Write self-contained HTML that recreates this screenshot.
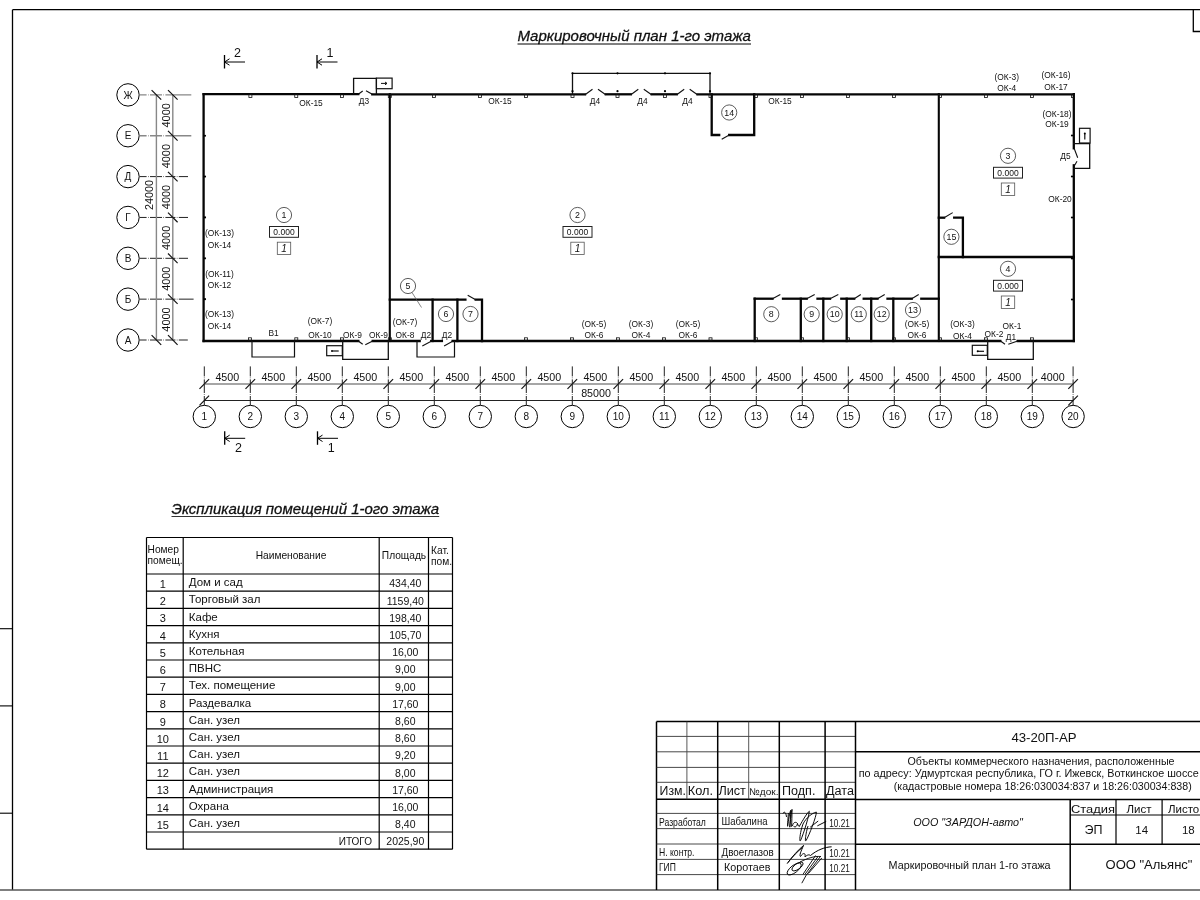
<!DOCTYPE html>
<html><head><meta charset="utf-8"><style>
html,body{margin:0;padding:0;background:#fff;width:1200px;height:900px;overflow:hidden}
svg{display:block;font-family:"Liberation Sans", sans-serif;}
text{fill:#111}
</style></head><body><div style="will-change:transform">
<svg width="1200" height="900" viewBox="0 0 1200 900">
<rect width="1200" height="900" fill="#fff"/>
<line x1="12.50" y1="9.70" x2="1200.00" y2="9.70" stroke="#000" stroke-width="1.3" />
<line x1="12.50" y1="9.70" x2="12.50" y2="890.00" stroke="#000" stroke-width="1.3" />
<line x1="0.00" y1="890.00" x2="1200.00" y2="890.00" stroke="#555" stroke-width="1.6" />
<line x1="0.00" y1="628.70" x2="12.50" y2="628.70" stroke="#000" stroke-width="1.1" />
<line x1="0.00" y1="705.90" x2="12.50" y2="705.90" stroke="#000" stroke-width="1.1" />
<line x1="0.00" y1="813.20" x2="12.50" y2="813.20" stroke="#000" stroke-width="1.1" />
<path d="M1193.3 9.7 V31.5 H1200" stroke="#000" stroke-width="1.3" fill="none" />
<text x="634.20" y="41.40" font-size="15" text-anchor="middle" style="font-style:italic;" textLength="233.5" lengthAdjust="spacingAndGlyphs" stroke="#111" stroke-width="0.3">Маркировочный план 1-го этажа</text>
<line x1="517.50" y1="44.00" x2="751.00" y2="44.00" stroke="#000" stroke-width="1" />
<circle cx="128.00" cy="94.90" r="11.20" stroke="#000" stroke-width="1" fill="none"/>
<text x="128.00" y="98.50" font-size="10" text-anchor="middle" style="" >Ж</text>
<line x1="139.60" y1="94.90" x2="191.30" y2="94.90" stroke="#888" stroke-width="1.4" stroke-dasharray="7 1.4 0.6 1.4 12 1.4 0.6 1.4 40"/>
<circle cx="128.00" cy="135.75" r="11.20" stroke="#000" stroke-width="1" fill="none"/>
<text x="128.00" y="139.35" font-size="10" text-anchor="middle" style="" >Е</text>
<line x1="139.60" y1="135.75" x2="191.30" y2="135.75" stroke="#888" stroke-width="1.4" stroke-dasharray="7 1.4 0.6 1.4 12 1.4 0.6 1.4 40"/>
<circle cx="128.00" cy="176.60" r="11.20" stroke="#000" stroke-width="1" fill="none"/>
<text x="128.00" y="180.20" font-size="10" text-anchor="middle" style="" >Д</text>
<line x1="139.60" y1="176.60" x2="188.00" y2="176.60" stroke="#222" stroke-width="1" stroke-dasharray="7 1.4 0.6 1.4 12 1.4 0.6 1.4 10 1.4 0.6 1.4 40"/>
<circle cx="128.00" cy="217.45" r="11.20" stroke="#000" stroke-width="1" fill="none"/>
<text x="128.00" y="221.05" font-size="10" text-anchor="middle" style="" >Г</text>
<line x1="139.60" y1="217.45" x2="188.00" y2="217.45" stroke="#222" stroke-width="1" stroke-dasharray="7 1.4 0.6 1.4 12 1.4 0.6 1.4 10 1.4 0.6 1.4 40"/>
<circle cx="128.00" cy="258.30" r="11.20" stroke="#000" stroke-width="1" fill="none"/>
<text x="128.00" y="261.90" font-size="10" text-anchor="middle" style="" >В</text>
<line x1="139.60" y1="258.30" x2="188.00" y2="258.30" stroke="#222" stroke-width="1" stroke-dasharray="7 1.4 0.6 1.4 12 1.4 0.6 1.4 10 1.4 0.6 1.4 40"/>
<circle cx="128.00" cy="299.15" r="11.20" stroke="#000" stroke-width="1" fill="none"/>
<text x="128.00" y="302.75" font-size="10" text-anchor="middle" style="" >Б</text>
<line x1="139.60" y1="299.15" x2="193.60" y2="299.15" stroke="#222" stroke-width="1" stroke-dasharray="7 1.4 0.6 1.4 12 1.4 0.6 1.4 10 1.4 0.6 1.4 40"/>
<circle cx="128.00" cy="340.00" r="11.20" stroke="#000" stroke-width="1" fill="none"/>
<text x="128.00" y="343.60" font-size="10" text-anchor="middle" style="" >А</text>
<line x1="139.60" y1="340.00" x2="187.80" y2="340.00" stroke="#222" stroke-width="1" stroke-dasharray="7 1.4 0.6 1.4 12 1.4 0.6 1.4 10 1.4 0.6 1.4 40"/>
<line x1="156.40" y1="94.90" x2="156.40" y2="340.00" stroke="#888" stroke-width="1.4" />
<line x1="172.80" y1="94.90" x2="172.80" y2="340.00" stroke="#888" stroke-width="1.4" />
<line x1="151.60" y1="90.10" x2="161.20" y2="99.70" stroke="#111" stroke-width="1.2" />
<line x1="151.60" y1="335.20" x2="161.20" y2="344.80" stroke="#111" stroke-width="1.2" />
<line x1="168.00" y1="90.10" x2="177.60" y2="99.70" stroke="#111" stroke-width="1.2" />
<line x1="168.00" y1="130.95" x2="177.60" y2="140.55" stroke="#111" stroke-width="1.2" />
<line x1="168.00" y1="171.80" x2="177.60" y2="181.40" stroke="#111" stroke-width="1.2" />
<line x1="168.00" y1="212.65" x2="177.60" y2="222.25" stroke="#111" stroke-width="1.2" />
<line x1="168.00" y1="253.50" x2="177.60" y2="263.10" stroke="#111" stroke-width="1.2" />
<line x1="168.00" y1="294.35" x2="177.60" y2="303.95" stroke="#111" stroke-width="1.2" />
<line x1="168.00" y1="335.20" x2="177.60" y2="344.80" stroke="#111" stroke-width="1.2" />
<text x="0" y="0" font-size="10.9" text-anchor="middle" transform="translate(169.9 115.33) rotate(-90)">4000</text>
<text x="0" y="0" font-size="10.9" text-anchor="middle" transform="translate(169.9 156.18) rotate(-90)">4000</text>
<text x="0" y="0" font-size="10.9" text-anchor="middle" transform="translate(169.9 197.03) rotate(-90)">4000</text>
<text x="0" y="0" font-size="10.9" text-anchor="middle" transform="translate(169.9 237.88) rotate(-90)">4000</text>
<text x="0" y="0" font-size="10.9" text-anchor="middle" transform="translate(169.9 278.73) rotate(-90)">4000</text>
<text x="0" y="0" font-size="10.9" text-anchor="middle" transform="translate(169.9 319.57) rotate(-90)">4000</text>
<text x="0" y="0" font-size="10.8" text-anchor="middle" transform="translate(153.1 195) rotate(-90)">24000</text>
<circle cx="204.30" cy="416.50" r="11.20" stroke="#000" stroke-width="1" fill="none"/>
<text x="204.30" y="420.10" font-size="10" text-anchor="middle" style="" >1</text>
<line x1="204.30" y1="366.40" x2="204.30" y2="405.30" stroke="#222" stroke-width="1" stroke-dasharray="10 1.2 0.6 1.2 13.6 1.2 0.6 1.2 30"/>
<circle cx="250.30" cy="416.50" r="11.20" stroke="#000" stroke-width="1" fill="none"/>
<text x="250.30" y="420.10" font-size="10" text-anchor="middle" style="" >2</text>
<line x1="250.30" y1="366.40" x2="250.30" y2="405.30" stroke="#222" stroke-width="1" stroke-dasharray="10 1.2 0.6 1.2 13.6 1.2 0.6 1.2 30"/>
<circle cx="296.30" cy="416.50" r="11.20" stroke="#000" stroke-width="1" fill="none"/>
<text x="296.30" y="420.10" font-size="10" text-anchor="middle" style="" >3</text>
<line x1="296.30" y1="366.40" x2="296.30" y2="405.30" stroke="#222" stroke-width="1" stroke-dasharray="10 1.2 0.6 1.2 13.6 1.2 0.6 1.2 30"/>
<circle cx="342.30" cy="416.50" r="11.20" stroke="#000" stroke-width="1" fill="none"/>
<text x="342.30" y="420.10" font-size="10" text-anchor="middle" style="" >4</text>
<line x1="342.30" y1="366.40" x2="342.30" y2="405.30" stroke="#222" stroke-width="1" stroke-dasharray="10 1.2 0.6 1.2 13.6 1.2 0.6 1.2 30"/>
<circle cx="388.30" cy="416.50" r="11.20" stroke="#000" stroke-width="1" fill="none"/>
<text x="388.30" y="420.10" font-size="10" text-anchor="middle" style="" >5</text>
<line x1="388.30" y1="366.40" x2="388.30" y2="405.30" stroke="#222" stroke-width="1" stroke-dasharray="10 1.2 0.6 1.2 13.6 1.2 0.6 1.2 30"/>
<circle cx="434.30" cy="416.50" r="11.20" stroke="#000" stroke-width="1" fill="none"/>
<text x="434.30" y="420.10" font-size="10" text-anchor="middle" style="" >6</text>
<line x1="434.30" y1="366.40" x2="434.30" y2="405.30" stroke="#222" stroke-width="1" stroke-dasharray="10 1.2 0.6 1.2 13.6 1.2 0.6 1.2 30"/>
<circle cx="480.30" cy="416.50" r="11.20" stroke="#000" stroke-width="1" fill="none"/>
<text x="480.30" y="420.10" font-size="10" text-anchor="middle" style="" >7</text>
<line x1="480.30" y1="366.40" x2="480.30" y2="405.30" stroke="#222" stroke-width="1" stroke-dasharray="10 1.2 0.6 1.2 13.6 1.2 0.6 1.2 30"/>
<circle cx="526.30" cy="416.50" r="11.20" stroke="#000" stroke-width="1" fill="none"/>
<text x="526.30" y="420.10" font-size="10" text-anchor="middle" style="" >8</text>
<line x1="526.30" y1="366.40" x2="526.30" y2="405.30" stroke="#222" stroke-width="1" stroke-dasharray="10 1.2 0.6 1.2 13.6 1.2 0.6 1.2 30"/>
<circle cx="572.30" cy="416.50" r="11.20" stroke="#000" stroke-width="1" fill="none"/>
<text x="572.30" y="420.10" font-size="10" text-anchor="middle" style="" >9</text>
<line x1="572.30" y1="366.40" x2="572.30" y2="405.30" stroke="#222" stroke-width="1" stroke-dasharray="10 1.2 0.6 1.2 13.6 1.2 0.6 1.2 30"/>
<circle cx="618.30" cy="416.50" r="11.20" stroke="#000" stroke-width="1" fill="none"/>
<text x="618.30" y="420.10" font-size="10" text-anchor="middle" style="" >10</text>
<line x1="618.30" y1="366.40" x2="618.30" y2="405.30" stroke="#222" stroke-width="1" stroke-dasharray="10 1.2 0.6 1.2 13.6 1.2 0.6 1.2 30"/>
<circle cx="664.30" cy="416.50" r="11.20" stroke="#000" stroke-width="1" fill="none"/>
<text x="664.30" y="420.10" font-size="10" text-anchor="middle" style="" >11</text>
<line x1="664.30" y1="366.40" x2="664.30" y2="405.30" stroke="#222" stroke-width="1" stroke-dasharray="10 1.2 0.6 1.2 13.6 1.2 0.6 1.2 30"/>
<circle cx="710.30" cy="416.50" r="11.20" stroke="#000" stroke-width="1" fill="none"/>
<text x="710.30" y="420.10" font-size="10" text-anchor="middle" style="" >12</text>
<line x1="710.30" y1="366.40" x2="710.30" y2="405.30" stroke="#222" stroke-width="1" stroke-dasharray="10 1.2 0.6 1.2 13.6 1.2 0.6 1.2 30"/>
<circle cx="756.30" cy="416.50" r="11.20" stroke="#000" stroke-width="1" fill="none"/>
<text x="756.30" y="420.10" font-size="10" text-anchor="middle" style="" >13</text>
<line x1="756.30" y1="366.40" x2="756.30" y2="405.30" stroke="#222" stroke-width="1" stroke-dasharray="10 1.2 0.6 1.2 13.6 1.2 0.6 1.2 30"/>
<circle cx="802.30" cy="416.50" r="11.20" stroke="#000" stroke-width="1" fill="none"/>
<text x="802.30" y="420.10" font-size="10" text-anchor="middle" style="" >14</text>
<line x1="802.30" y1="366.40" x2="802.30" y2="405.30" stroke="#222" stroke-width="1" stroke-dasharray="10 1.2 0.6 1.2 13.6 1.2 0.6 1.2 30"/>
<circle cx="848.30" cy="416.50" r="11.20" stroke="#000" stroke-width="1" fill="none"/>
<text x="848.30" y="420.10" font-size="10" text-anchor="middle" style="" >15</text>
<line x1="848.30" y1="366.40" x2="848.30" y2="405.30" stroke="#222" stroke-width="1" stroke-dasharray="10 1.2 0.6 1.2 13.6 1.2 0.6 1.2 30"/>
<circle cx="894.30" cy="416.50" r="11.20" stroke="#000" stroke-width="1" fill="none"/>
<text x="894.30" y="420.10" font-size="10" text-anchor="middle" style="" >16</text>
<line x1="894.30" y1="366.40" x2="894.30" y2="405.30" stroke="#222" stroke-width="1" stroke-dasharray="10 1.2 0.6 1.2 13.6 1.2 0.6 1.2 30"/>
<circle cx="940.30" cy="416.50" r="11.20" stroke="#000" stroke-width="1" fill="none"/>
<text x="940.30" y="420.10" font-size="10" text-anchor="middle" style="" >17</text>
<line x1="940.30" y1="366.40" x2="940.30" y2="405.30" stroke="#222" stroke-width="1" stroke-dasharray="10 1.2 0.6 1.2 13.6 1.2 0.6 1.2 30"/>
<circle cx="986.30" cy="416.50" r="11.20" stroke="#000" stroke-width="1" fill="none"/>
<text x="986.30" y="420.10" font-size="10" text-anchor="middle" style="" >18</text>
<line x1="986.30" y1="366.40" x2="986.30" y2="405.30" stroke="#222" stroke-width="1" stroke-dasharray="10 1.2 0.6 1.2 13.6 1.2 0.6 1.2 30"/>
<circle cx="1032.30" cy="416.50" r="11.20" stroke="#000" stroke-width="1" fill="none"/>
<text x="1032.30" y="420.10" font-size="10" text-anchor="middle" style="" >19</text>
<line x1="1032.30" y1="366.40" x2="1032.30" y2="405.30" stroke="#222" stroke-width="1" stroke-dasharray="10 1.2 0.6 1.2 13.6 1.2 0.6 1.2 30"/>
<circle cx="1073.10" cy="416.50" r="11.20" stroke="#000" stroke-width="1" fill="none"/>
<text x="1073.10" y="420.10" font-size="10" text-anchor="middle" style="" >20</text>
<line x1="1073.10" y1="366.40" x2="1073.10" y2="405.30" stroke="#222" stroke-width="1" stroke-dasharray="10 1.2 0.6 1.2 13.6 1.2 0.6 1.2 30"/>
<line x1="204.00" y1="384.00" x2="1073.00" y2="384.00" stroke="#888" stroke-width="1.6" />
<line x1="204.00" y1="400.50" x2="1073.00" y2="400.50" stroke="#222" stroke-width="1" />
<line x1="199.50" y1="388.80" x2="209.10" y2="379.20" stroke="#111" stroke-width="1.2" />
<line x1="245.50" y1="388.80" x2="255.10" y2="379.20" stroke="#111" stroke-width="1.2" />
<line x1="291.50" y1="388.80" x2="301.10" y2="379.20" stroke="#111" stroke-width="1.2" />
<line x1="337.50" y1="388.80" x2="347.10" y2="379.20" stroke="#111" stroke-width="1.2" />
<line x1="383.50" y1="388.80" x2="393.10" y2="379.20" stroke="#111" stroke-width="1.2" />
<line x1="429.50" y1="388.80" x2="439.10" y2="379.20" stroke="#111" stroke-width="1.2" />
<line x1="475.50" y1="388.80" x2="485.10" y2="379.20" stroke="#111" stroke-width="1.2" />
<line x1="521.50" y1="388.80" x2="531.10" y2="379.20" stroke="#111" stroke-width="1.2" />
<line x1="567.50" y1="388.80" x2="577.10" y2="379.20" stroke="#111" stroke-width="1.2" />
<line x1="613.50" y1="388.80" x2="623.10" y2="379.20" stroke="#111" stroke-width="1.2" />
<line x1="659.50" y1="388.80" x2="669.10" y2="379.20" stroke="#111" stroke-width="1.2" />
<line x1="705.50" y1="388.80" x2="715.10" y2="379.20" stroke="#111" stroke-width="1.2" />
<line x1="751.50" y1="388.80" x2="761.10" y2="379.20" stroke="#111" stroke-width="1.2" />
<line x1="797.50" y1="388.80" x2="807.10" y2="379.20" stroke="#111" stroke-width="1.2" />
<line x1="843.50" y1="388.80" x2="853.10" y2="379.20" stroke="#111" stroke-width="1.2" />
<line x1="889.50" y1="388.80" x2="899.10" y2="379.20" stroke="#111" stroke-width="1.2" />
<line x1="935.50" y1="388.80" x2="945.10" y2="379.20" stroke="#111" stroke-width="1.2" />
<line x1="981.50" y1="388.80" x2="991.10" y2="379.20" stroke="#111" stroke-width="1.2" />
<line x1="1027.50" y1="388.80" x2="1037.10" y2="379.20" stroke="#111" stroke-width="1.2" />
<line x1="1068.30" y1="388.80" x2="1077.90" y2="379.20" stroke="#111" stroke-width="1.2" />
<line x1="199.50" y1="405.30" x2="209.10" y2="395.70" stroke="#111" stroke-width="1.2" />
<line x1="1068.30" y1="405.30" x2="1077.90" y2="395.70" stroke="#111" stroke-width="1.2" />
<text x="227.30" y="380.95" font-size="10.7" text-anchor="middle" style="" >4500</text>
<text x="273.30" y="380.95" font-size="10.7" text-anchor="middle" style="" >4500</text>
<text x="319.30" y="380.95" font-size="10.7" text-anchor="middle" style="" >4500</text>
<text x="365.30" y="380.95" font-size="10.7" text-anchor="middle" style="" >4500</text>
<text x="411.30" y="380.95" font-size="10.7" text-anchor="middle" style="" >4500</text>
<text x="457.30" y="380.95" font-size="10.7" text-anchor="middle" style="" >4500</text>
<text x="503.30" y="380.95" font-size="10.7" text-anchor="middle" style="" >4500</text>
<text x="549.30" y="380.95" font-size="10.7" text-anchor="middle" style="" >4500</text>
<text x="595.30" y="380.95" font-size="10.7" text-anchor="middle" style="" >4500</text>
<text x="641.30" y="380.95" font-size="10.7" text-anchor="middle" style="" >4500</text>
<text x="687.30" y="380.95" font-size="10.7" text-anchor="middle" style="" >4500</text>
<text x="733.30" y="380.95" font-size="10.7" text-anchor="middle" style="" >4500</text>
<text x="779.30" y="380.95" font-size="10.7" text-anchor="middle" style="" >4500</text>
<text x="825.30" y="380.95" font-size="10.7" text-anchor="middle" style="" >4500</text>
<text x="871.30" y="380.95" font-size="10.7" text-anchor="middle" style="" >4500</text>
<text x="917.30" y="380.95" font-size="10.7" text-anchor="middle" style="" >4500</text>
<text x="963.30" y="380.95" font-size="10.7" text-anchor="middle" style="" >4500</text>
<text x="1009.30" y="380.95" font-size="10.7" text-anchor="middle" style="" >4500</text>
<text x="1052.70" y="380.95" font-size="10.7" text-anchor="middle" style="" >4000</text>
<text x="596.00" y="396.85" font-size="10.7" text-anchor="middle" style="" >85000</text>
<line x1="224.50" y1="55.00" x2="224.50" y2="68.50" stroke="#000" stroke-width="1.3" />
<line x1="224.50" y1="62.00" x2="245.00" y2="62.00" stroke="#000" stroke-width="1" />
<path d="M229.5 58.8 L224.5 62 L229.5 65.2" stroke="#000" stroke-width="1" fill="none" />
<text x="237.50" y="56.50" font-size="12.5" text-anchor="middle" style="" >2</text>
<line x1="317.00" y1="55.00" x2="317.00" y2="68.50" stroke="#000" stroke-width="1.3" />
<line x1="317.00" y1="62.00" x2="337.50" y2="62.00" stroke="#000" stroke-width="1" />
<path d="M322 58.8 L317 62 L322 65.2" stroke="#000" stroke-width="1" fill="none" />
<text x="330.00" y="56.50" font-size="12.5" text-anchor="middle" style="" >1</text>
<line x1="224.70" y1="431.30" x2="224.70" y2="444.80" stroke="#000" stroke-width="1.3" />
<line x1="224.70" y1="438.30" x2="245.20" y2="438.30" stroke="#000" stroke-width="1" />
<path d="M229.7 435.1 L224.7 438.3 L229.7 441.5" stroke="#000" stroke-width="1" fill="none" />
<text x="238.40" y="452.10" font-size="12.5" text-anchor="middle" style="" >2</text>
<line x1="317.50" y1="431.30" x2="317.50" y2="444.80" stroke="#000" stroke-width="1.3" />
<line x1="317.50" y1="438.30" x2="338.00" y2="438.30" stroke="#000" stroke-width="1" />
<path d="M322.5 435.1 L317.5 438.3 L322.5 441.5" stroke="#000" stroke-width="1" fill="none" />
<text x="331.20" y="452.10" font-size="12.5" text-anchor="middle" style="" >1</text>
<path d="M203.6 94.2 H358.3" stroke="#050505" stroke-width="2.3" fill="none" stroke-linecap="square"/>
<path d="M372.3 94.3 H585" stroke="#050505" stroke-width="2.3" fill="none" stroke-linecap="square"/>
<path d="M605.8 94.3 H630.8" stroke="#050505" stroke-width="2.3" fill="none" stroke-linecap="square"/>
<path d="M651.7 94.3 H676.7" stroke="#050505" stroke-width="2.3" fill="none" stroke-linecap="square"/>
<path d="M697.5 94.3 H1073.8" stroke="#050505" stroke-width="2.3" fill="none" stroke-linecap="square"/>
<path d="M1073.8 94.2 V148.3" stroke="#050505" stroke-width="2.3" fill="none" stroke-linecap="square"/>
<path d="M1073.8 165.3 V341" stroke="#050505" stroke-width="2.3" fill="none" stroke-linecap="square"/>
<path d="M203.6 341 H358.3" stroke="#050505" stroke-width="2.3" fill="none" stroke-linecap="square"/>
<path d="M372.7 341 H419.7" stroke="#050505" stroke-width="2.3" fill="none" stroke-linecap="square"/>
<path d="M431.2 341 H441.9" stroke="#050505" stroke-width="2.3" fill="none" stroke-linecap="square"/>
<path d="M452.6 341 H1000.3" stroke="#050505" stroke-width="2.3" fill="none" stroke-linecap="square"/>
<path d="M1017.7 341 H1073.8" stroke="#050505" stroke-width="2.3" fill="none" stroke-linecap="square"/>
<path d="M203.6 94.2 V341" stroke="#050505" stroke-width="2.3" fill="none" stroke-linecap="square"/>
<path d="M389.8 94.2 V341" stroke="#050505" stroke-width="2.1" fill="none" stroke-linecap="square"/>
<path d="M938.8 94.2 V341" stroke="#050505" stroke-width="2.1" fill="none" stroke-linecap="square"/>
<path d="M938.8 257 H1073.8" stroke="#050505" stroke-width="2.3" fill="none" stroke-linecap="square"/>
<path d="M938.8 217.7 H944.1" stroke="#050505" stroke-width="2.3" fill="none" stroke-linecap="square"/>
<path d="M954.2 217.7 H962.9 V257" stroke="#050505" stroke-width="2.3" fill="none" stroke-linecap="square"/>
<path d="M944.1 217.7 L952.7 212.6" stroke="#111" stroke-width="1.1" fill="none" />
<path d="M389.8 299.7 H465.4" stroke="#050505" stroke-width="2.3" fill="none" stroke-linecap="square"/>
<path d="M475.7 299.7 H482 V341" stroke="#050505" stroke-width="2.3" fill="none" stroke-linecap="square"/>
<path d="M467.7 295.2 L475.7 299.7" stroke="#111" stroke-width="1.1" fill="none" />
<path d="M432.6 299.7 V341" stroke="#050505" stroke-width="2.3" fill="none" stroke-linecap="square"/>
<path d="M457.4 299.7 V341" stroke="#050505" stroke-width="2.3" fill="none" stroke-linecap="square"/>
<path d="M754.7 298.7 H772.5" stroke="#050505" stroke-width="2.3" fill="none" stroke-linecap="square"/>
<path d="M783 298.7 H806.7" stroke="#050505" stroke-width="2.3" fill="none" stroke-linecap="square"/>
<path d="M817.5 298.7 H830" stroke="#050505" stroke-width="2.3" fill="none" stroke-linecap="square"/>
<path d="M841.3 298.7 H854.2" stroke="#050505" stroke-width="2.3" fill="none" stroke-linecap="square"/>
<path d="M863.7 298.7 H877.5" stroke="#050505" stroke-width="2.3" fill="none" stroke-linecap="square"/>
<path d="M887.5 298.7 H911.7" stroke="#050505" stroke-width="2.3" fill="none" stroke-linecap="square"/>
<path d="M921.3 298.7 H938.8" stroke="#050505" stroke-width="2.3" fill="none" stroke-linecap="square"/>
<path d="M772.5 298.7 L780.3 294.5" stroke="#111" stroke-width="1.1" fill="none" />
<path d="M806.7 298.7 L814.7 294.5" stroke="#111" stroke-width="1.1" fill="none" />
<path d="M830 298.7 L838.3 294.5" stroke="#111" stroke-width="1.1" fill="none" />
<path d="M854.2 298.7 L860.8 294.5" stroke="#111" stroke-width="1.1" fill="none" />
<path d="M877.5 298.7 L884.7 294.5" stroke="#111" stroke-width="1.1" fill="none" />
<path d="M911.7 298.7 L918.7 294.5" stroke="#111" stroke-width="1.1" fill="none" />
<path d="M754.7 298.7 V341" stroke="#050505" stroke-width="2.3" fill="none" stroke-linecap="square"/>
<path d="M800.8 298.7 V341" stroke="#050505" stroke-width="2.3" fill="none" stroke-linecap="square"/>
<path d="M823.3 298.7 V341" stroke="#050505" stroke-width="2.3" fill="none" stroke-linecap="square"/>
<path d="M846.7 298.7 V341" stroke="#050505" stroke-width="2.3" fill="none" stroke-linecap="square"/>
<path d="M871.2 298.7 V341" stroke="#050505" stroke-width="2.3" fill="none" stroke-linecap="square"/>
<path d="M893.3 298.7 V341" stroke="#050505" stroke-width="2.3" fill="none" stroke-linecap="square"/>
<path d="M711.7 94.3 V135 H719.2" stroke="#050505" stroke-width="2.3" fill="none" stroke-linecap="square"/>
<path d="M729.2 135 H754.2 V94.3" stroke="#050505" stroke-width="2.3" fill="none" stroke-linecap="square"/>
<path d="M721.7 139.2 L729.2 135" stroke="#111" stroke-width="1.1" fill="none" />
<path d="M572.5 94.3 V73.3 H710 V94.3" stroke="#111" stroke-width="1.3" fill="none" />
<circle cx="572.5" cy="73.3" r="1.1" fill="#000"/>
<circle cx="572.5" cy="91.2" r="1.1" fill="#000"/>
<circle cx="617.5" cy="73.3" r="1.1" fill="#000"/>
<circle cx="617.5" cy="91.2" r="1.1" fill="#000"/>
<circle cx="665" cy="73.3" r="1.1" fill="#000"/>
<circle cx="665" cy="91.2" r="1.1" fill="#000"/>
<circle cx="710" cy="73.3" r="1.1" fill="#000"/>
<circle cx="710" cy="91.2" r="1.1" fill="#000"/>
<path d="M585 94.7 L592.5 89.2 M605.8 94.7 L598 89.2" stroke="#111" stroke-width="1.1" fill="none" />
<path d="M630.8 94.7 L638.3 89.2 M651.5999999999999 94.7 L643.8 89.2" stroke="#111" stroke-width="1.1" fill="none" />
<path d="M676.7 94.7 L684.2 89.2 M697.5 94.7 L689.7 89.2" stroke="#111" stroke-width="1.1" fill="none" />
<path d="M353.6 94.3 V78.3 H376.4 V94.3" stroke="#111" stroke-width="1.3" fill="none" />
<rect x="376.40" y="78.10" width="15.70" height="10.60" stroke="#111" stroke-width="1.2" fill="none" />
<path d="M381 83.4 H387 M385 82 L387 83.4 L385 84.8" stroke="#111" stroke-width="1" fill="none" />
<path d="M358.3 94.3 L362.7 91 M372.3 94.3 L366 90.7" stroke="#111" stroke-width="1.1" fill="none" />
<path d="M1073 143.7 H1089.7 V168.3 H1073" stroke="#111" stroke-width="1.3" fill="none" />
<rect x="1079.50" y="128.30" width="10.60" height="14.70" stroke="#111" stroke-width="1.2" fill="none" />
<path d="M1084.8 139.5 V133.5" stroke="#111" stroke-width="1.2" fill="none" />
<circle cx="1084.8" cy="133.6" r="1" fill="#000"/>
<path d="M1074.3 148.7 L1077.7 157.7 M1074.7 165.3 L1077 161.3" stroke="#111" stroke-width="1.1" fill="none" />
<path d="M252 341 V357 H294.5 V341" stroke="#111" stroke-width="1.2" fill="none" />
<path d="M342.7 341 V359.3 H388.3 V341" stroke="#111" stroke-width="1.3" fill="none" />
<rect x="326.70" y="345.70" width="15.60" height="10.00" stroke="#111" stroke-width="1.2" fill="none" />
<path d="M338.7 351 H332.5" stroke="#111" stroke-width="1.2" fill="none" />
<circle cx="332" cy="351" r="1" fill="#000"/>
<path d="M358.3 341 L362.7 344.3 M372.7 341 L365.3 344.7" stroke="#111" stroke-width="1.1" fill="none" />
<path d="M417 341 V357 H454.5 V341" stroke="#111" stroke-width="1.2" fill="none" />
<path d="M422.3 345.9 L431.2 341.2 M444.1 345.9 L452.6 341.2" stroke="#111" stroke-width="1.1" fill="none" />
<path d="M987.7 341 V359.3 H1033.3 V341" stroke="#111" stroke-width="1.3" fill="none" />
<rect x="972.30" y="345.30" width="15.00" height="10.00" stroke="#111" stroke-width="1.2" fill="none" />
<path d="M984 351.3 H978" stroke="#111" stroke-width="1.2" fill="none" />
<circle cx="977.7" cy="351.3" r="1" fill="#000"/>
<path d="M1000.5 341 L1005 344.3 M1017.7 341 L1008.3 344.3" stroke="#111" stroke-width="1.1" fill="none" />
<rect x="248.90" y="94.50" width="3.00" height="3.00" stroke="#111" stroke-width="0.8" fill="none" />
<rect x="294.75" y="94.50" width="3.00" height="3.00" stroke="#111" stroke-width="0.8" fill="none" />
<rect x="340.50" y="94.50" width="3.00" height="3.00" stroke="#111" stroke-width="0.8" fill="none" />
<rect x="388.30" y="94.50" width="3.00" height="3.00" stroke="#111" stroke-width="0.8" fill="none" />
<rect x="432.50" y="94.50" width="3.00" height="3.00" stroke="#111" stroke-width="0.8" fill="none" />
<rect x="478.50" y="94.50" width="3.00" height="3.00" stroke="#111" stroke-width="0.8" fill="none" />
<rect x="524.50" y="94.50" width="3.00" height="3.00" stroke="#111" stroke-width="0.8" fill="none" />
<rect x="571.00" y="94.50" width="3.00" height="3.00" stroke="#111" stroke-width="0.8" fill="none" />
<rect x="616.00" y="94.50" width="3.00" height="3.00" stroke="#111" stroke-width="0.8" fill="none" />
<rect x="663.50" y="94.50" width="3.00" height="3.00" stroke="#111" stroke-width="0.8" fill="none" />
<rect x="709.00" y="94.50" width="3.00" height="3.00" stroke="#111" stroke-width="0.8" fill="none" />
<rect x="754.50" y="94.50" width="3.00" height="3.00" stroke="#111" stroke-width="0.8" fill="none" />
<rect x="800.50" y="94.50" width="3.00" height="3.00" stroke="#111" stroke-width="0.8" fill="none" />
<rect x="846.50" y="94.50" width="3.00" height="3.00" stroke="#111" stroke-width="0.8" fill="none" />
<rect x="892.50" y="94.50" width="3.00" height="3.00" stroke="#111" stroke-width="0.8" fill="none" />
<rect x="938.50" y="94.50" width="3.00" height="3.00" stroke="#111" stroke-width="0.8" fill="none" />
<rect x="984.50" y="94.50" width="3.00" height="3.00" stroke="#111" stroke-width="0.8" fill="none" />
<rect x="1030.50" y="94.50" width="3.00" height="3.00" stroke="#111" stroke-width="0.8" fill="none" />
<rect x="1071.50" y="94.50" width="3.00" height="3.00" stroke="#111" stroke-width="0.8" fill="none" />
<rect x="248.50" y="337.80" width="3.00" height="2.40" stroke="#111" stroke-width="0.8" fill="none" />
<rect x="294.80" y="337.80" width="3.00" height="2.40" stroke="#111" stroke-width="0.8" fill="none" />
<rect x="340.50" y="337.80" width="3.00" height="2.40" stroke="#111" stroke-width="0.8" fill="none" />
<rect x="388.30" y="337.80" width="3.00" height="2.40" stroke="#111" stroke-width="0.8" fill="none" />
<rect x="524.50" y="337.80" width="3.00" height="2.40" stroke="#111" stroke-width="0.8" fill="none" />
<rect x="570.50" y="337.80" width="3.00" height="2.40" stroke="#111" stroke-width="0.8" fill="none" />
<rect x="616.50" y="337.80" width="3.00" height="2.40" stroke="#111" stroke-width="0.8" fill="none" />
<rect x="662.50" y="337.80" width="3.00" height="2.40" stroke="#111" stroke-width="0.8" fill="none" />
<rect x="709.00" y="337.80" width="3.00" height="2.40" stroke="#111" stroke-width="0.8" fill="none" />
<rect x="754.50" y="337.80" width="3.00" height="2.40" stroke="#111" stroke-width="0.8" fill="none" />
<rect x="800.50" y="337.80" width="3.00" height="2.40" stroke="#111" stroke-width="0.8" fill="none" />
<rect x="846.50" y="337.80" width="3.00" height="2.40" stroke="#111" stroke-width="0.8" fill="none" />
<rect x="892.50" y="337.80" width="3.00" height="2.40" stroke="#111" stroke-width="0.8" fill="none" />
<rect x="938.50" y="337.80" width="3.00" height="2.40" stroke="#111" stroke-width="0.8" fill="none" />
<rect x="984.50" y="337.80" width="3.00" height="2.40" stroke="#111" stroke-width="0.8" fill="none" />
<rect x="1030.50" y="337.80" width="3.00" height="2.40" stroke="#111" stroke-width="0.8" fill="none" />
<circle cx="205" cy="135.75" r="1.1" fill="#000"/>
<circle cx="205" cy="176.60000000000002" r="1.1" fill="#000"/>
<circle cx="205" cy="217.45000000000002" r="1.1" fill="#000"/>
<circle cx="205" cy="258.3" r="1.1" fill="#000"/>
<circle cx="205" cy="299.15" r="1.1" fill="#000"/>
<circle cx="1072" cy="135.5" r="1.1" fill="#000"/>
<circle cx="1072" cy="176.5" r="1.1" fill="#000"/>
<circle cx="1072" cy="217.5" r="1.1" fill="#000"/>
<circle cx="1072" cy="258.5" r="1.1" fill="#000"/>
<circle cx="1072" cy="299.5" r="1.1" fill="#000"/>
<circle cx="284.00" cy="215.00" r="7.60" stroke="#333" stroke-width="0.8" fill="none"/>
<text x="284.00" y="218.17" font-size="8.8" text-anchor="middle" style="" >1</text>
<rect x="269.50" y="226.50" width="29.00" height="10.80" stroke="#222" stroke-width="1" fill="none" />
<text x="284.00" y="235.06" font-size="8.5" text-anchor="middle" style="" >0.000</text>
<rect x="277.30" y="242.20" width="13.40" height="12.40" stroke="#555" stroke-width="0.8" fill="none" />
<text x="284.00" y="252.00" font-size="10" text-anchor="middle" style="font-style:italic;" >1</text>
<circle cx="577.50" cy="215.00" r="7.60" stroke="#333" stroke-width="0.8" fill="none"/>
<text x="577.50" y="218.17" font-size="8.8" text-anchor="middle" style="" >2</text>
<rect x="563.00" y="226.50" width="29.00" height="10.80" stroke="#222" stroke-width="1" fill="none" />
<text x="577.50" y="235.06" font-size="8.5" text-anchor="middle" style="" >0.000</text>
<rect x="570.80" y="242.20" width="13.40" height="12.40" stroke="#555" stroke-width="0.8" fill="none" />
<text x="577.50" y="252.00" font-size="10" text-anchor="middle" style="font-style:italic;" >1</text>
<circle cx="1008.00" cy="155.80" r="7.60" stroke="#333" stroke-width="0.8" fill="none"/>
<text x="1008.00" y="158.97" font-size="8.8" text-anchor="middle" style="" >3</text>
<rect x="993.50" y="167.30" width="29.00" height="10.80" stroke="#222" stroke-width="1" fill="none" />
<text x="1008.00" y="175.86" font-size="8.5" text-anchor="middle" style="" >0.000</text>
<rect x="1001.30" y="183.00" width="13.40" height="12.40" stroke="#555" stroke-width="0.8" fill="none" />
<text x="1008.00" y="192.80" font-size="10" text-anchor="middle" style="font-style:italic;" >1</text>
<circle cx="1008.00" cy="268.80" r="7.60" stroke="#333" stroke-width="0.8" fill="none"/>
<text x="1008.00" y="271.97" font-size="8.8" text-anchor="middle" style="" >4</text>
<rect x="993.50" y="280.30" width="29.00" height="10.80" stroke="#222" stroke-width="1" fill="none" />
<text x="1008.00" y="288.86" font-size="8.5" text-anchor="middle" style="" >0.000</text>
<rect x="1001.30" y="296.00" width="13.40" height="12.40" stroke="#555" stroke-width="0.8" fill="none" />
<text x="1008.00" y="305.80" font-size="10" text-anchor="middle" style="font-style:italic;" >1</text>
<circle cx="408.00" cy="286.00" r="7.60" stroke="#333" stroke-width="0.8" fill="none"/>
<text x="408.00" y="289.17" font-size="8.8" text-anchor="middle" style="" >5</text>
<circle cx="446.00" cy="314.00" r="7.60" stroke="#333" stroke-width="0.8" fill="none"/>
<text x="446.00" y="317.17" font-size="8.8" text-anchor="middle" style="" >6</text>
<circle cx="470.50" cy="314.00" r="7.60" stroke="#333" stroke-width="0.8" fill="none"/>
<text x="470.50" y="317.17" font-size="8.8" text-anchor="middle" style="" >7</text>
<circle cx="771.30" cy="314.20" r="7.60" stroke="#333" stroke-width="0.8" fill="none"/>
<text x="771.30" y="317.37" font-size="8.8" text-anchor="middle" style="" >8</text>
<circle cx="811.70" cy="314.20" r="7.60" stroke="#333" stroke-width="0.8" fill="none"/>
<text x="811.70" y="317.37" font-size="8.8" text-anchor="middle" style="" >9</text>
<circle cx="834.70" cy="314.20" r="7.60" stroke="#333" stroke-width="0.8" fill="none"/>
<text x="834.70" y="317.37" font-size="8.8" text-anchor="middle" style="" >10</text>
<circle cx="858.80" cy="314.20" r="7.60" stroke="#333" stroke-width="0.8" fill="none"/>
<text x="858.80" y="317.37" font-size="8.8" text-anchor="middle" style="" >11</text>
<circle cx="881.70" cy="314.20" r="7.60" stroke="#333" stroke-width="0.8" fill="none"/>
<text x="881.70" y="317.37" font-size="8.8" text-anchor="middle" style="" >12</text>
<circle cx="913.00" cy="310.00" r="7.60" stroke="#333" stroke-width="0.8" fill="none"/>
<text x="913.00" y="313.17" font-size="8.8" text-anchor="middle" style="" >13</text>
<circle cx="729.20" cy="112.50" r="7.60" stroke="#333" stroke-width="0.8" fill="none"/>
<text x="729.20" y="115.67" font-size="8.8" text-anchor="middle" style="" >14</text>
<circle cx="951.40" cy="236.80" r="7.60" stroke="#333" stroke-width="0.8" fill="none"/>
<text x="951.40" y="239.97" font-size="8.8" text-anchor="middle" style="" >15</text>
<line x1="412.00" y1="292.50" x2="421.50" y2="307.50" stroke="#555" stroke-width="0.7" />
<text x="311.00" y="106.32" font-size="8.4" text-anchor="middle" style="" >ОК-15</text>
<text x="500.00" y="104.02" font-size="8.4" text-anchor="middle" style="" >ОК-15</text>
<text x="780.00" y="104.02" font-size="8.4" text-anchor="middle" style="" >ОК-15</text>
<text x="364.00" y="103.72" font-size="8.4" text-anchor="middle" style="" >Д3</text>
<text x="595.00" y="103.52" font-size="8.4" text-anchor="middle" style="" >Д4</text>
<text x="642.50" y="103.52" font-size="8.4" text-anchor="middle" style="" >Д4</text>
<text x="687.50" y="103.52" font-size="8.4" text-anchor="middle" style="" >Д4</text>
<text x="1006.75" y="80.02" font-size="8.4" text-anchor="middle" style="" >(ОК-3)</text>
<text x="1006.75" y="90.52" font-size="8.4" text-anchor="middle" style="" >ОК-4</text>
<text x="1056.00" y="77.52" font-size="8.4" text-anchor="middle" style="" >(ОК-16)</text>
<text x="1056.00" y="90.02" font-size="8.4" text-anchor="middle" style="" >ОК-17</text>
<text x="1057.00" y="117.02" font-size="8.4" text-anchor="middle" style="" >(ОК-18)</text>
<text x="1057.00" y="127.02" font-size="8.4" text-anchor="middle" style="" >ОК-19</text>
<text x="1065.50" y="158.52" font-size="8.4" text-anchor="middle" style="" >Д5</text>
<text x="1060.00" y="201.77" font-size="8.4" text-anchor="middle" style="" >ОК-20</text>
<text x="219.50" y="235.52" font-size="8.4" text-anchor="middle" style="" >(ОК-13)</text>
<text x="219.50" y="248.02" font-size="8.4" text-anchor="middle" style="" >ОК-14</text>
<text x="219.50" y="276.77" font-size="8.4" text-anchor="middle" style="" >(ОК-11)</text>
<text x="219.50" y="288.02" font-size="8.4" text-anchor="middle" style="" >ОК-12</text>
<text x="219.50" y="316.77" font-size="8.4" text-anchor="middle" style="" >(ОК-13)</text>
<text x="219.50" y="328.52" font-size="8.4" text-anchor="middle" style="" >ОК-14</text>
<text x="320.00" y="324.27" font-size="8.4" text-anchor="middle" style="" >(ОК-7)</text>
<text x="320.00" y="337.52" font-size="8.4" text-anchor="middle" style="" >ОК-10</text>
<text x="352.50" y="338.02" font-size="8.4" text-anchor="middle" style="" >ОК-9</text>
<text x="378.50" y="338.02" font-size="8.4" text-anchor="middle" style="" >ОК-9</text>
<text x="273.50" y="335.52" font-size="8.4" text-anchor="middle" style="" >В1</text>
<text x="405.00" y="325.02" font-size="8.4" text-anchor="middle" style="" >(ОК-7)</text>
<text x="405.00" y="338.02" font-size="8.4" text-anchor="middle" style="" >ОК-8</text>
<text x="426.00" y="338.02" font-size="8.4" text-anchor="middle" style="" >Д2</text>
<text x="447.00" y="338.02" font-size="8.4" text-anchor="middle" style="" >Д2</text>
<text x="594.00" y="327.02" font-size="8.4" text-anchor="middle" style="" >(ОК-5)</text>
<text x="594.00" y="338.02" font-size="8.4" text-anchor="middle" style="" >ОК-6</text>
<text x="641.00" y="327.02" font-size="8.4" text-anchor="middle" style="" >(ОК-3)</text>
<text x="641.00" y="338.02" font-size="8.4" text-anchor="middle" style="" >ОК-4</text>
<text x="688.00" y="327.02" font-size="8.4" text-anchor="middle" style="" >(ОК-5)</text>
<text x="688.00" y="338.02" font-size="8.4" text-anchor="middle" style="" >ОК-6</text>
<text x="917.00" y="327.02" font-size="8.4" text-anchor="middle" style="" >(ОК-5)</text>
<text x="917.00" y="338.02" font-size="8.4" text-anchor="middle" style="" >ОК-6</text>
<text x="962.50" y="327.02" font-size="8.4" text-anchor="middle" style="" >(ОК-3)</text>
<text x="962.50" y="338.52" font-size="8.4" text-anchor="middle" style="" >ОК-4</text>
<text x="1012.00" y="329.02" font-size="8.4" text-anchor="middle" style="" >ОК-1</text>
<text x="994.00" y="337.02" font-size="8.4" text-anchor="middle" style="" >ОК-2</text>
<text x="1011.00" y="339.52" font-size="8.4" text-anchor="middle" style="" >Д1</text>
<text x="305.35" y="513.90" font-size="15" text-anchor="middle" style="font-style:italic;" textLength="267.7" lengthAdjust="spacingAndGlyphs" stroke="#111" stroke-width="0.3">Экспликация помещений 1-ого этажа</text>
<line x1="171.50" y1="516.50" x2="439.20" y2="516.50" stroke="#333" stroke-width="1.1" />
<line x1="146.50" y1="537.50" x2="146.50" y2="849.20" stroke="#000" stroke-width="1.2" />
<line x1="183.20" y1="537.50" x2="183.20" y2="849.20" stroke="#000" stroke-width="1.2" />
<line x1="379.20" y1="537.50" x2="379.20" y2="849.20" stroke="#000" stroke-width="1.2" />
<line x1="428.50" y1="537.50" x2="428.50" y2="849.20" stroke="#000" stroke-width="1.2" />
<line x1="452.50" y1="537.50" x2="452.50" y2="849.20" stroke="#000" stroke-width="1.2" />
<line x1="146.50" y1="537.50" x2="452.50" y2="537.50" stroke="#000" stroke-width="1.2" />
<line x1="146.50" y1="574.00" x2="452.50" y2="574.00" stroke="#000" stroke-width="1.2" />
<line x1="146.50" y1="591.20" x2="452.50" y2="591.20" stroke="#000" stroke-width="1.2" />
<line x1="146.50" y1="608.40" x2="452.50" y2="608.40" stroke="#000" stroke-width="1.2" />
<line x1="146.50" y1="625.60" x2="452.50" y2="625.60" stroke="#000" stroke-width="1.2" />
<line x1="146.50" y1="642.80" x2="452.50" y2="642.80" stroke="#000" stroke-width="1.2" />
<line x1="146.50" y1="660.00" x2="452.50" y2="660.00" stroke="#000" stroke-width="1.2" />
<line x1="146.50" y1="677.20" x2="452.50" y2="677.20" stroke="#000" stroke-width="1.2" />
<line x1="146.50" y1="694.40" x2="452.50" y2="694.40" stroke="#000" stroke-width="1.2" />
<line x1="146.50" y1="711.60" x2="452.50" y2="711.60" stroke="#000" stroke-width="1.2" />
<line x1="146.50" y1="728.80" x2="452.50" y2="728.80" stroke="#000" stroke-width="1.2" />
<line x1="146.50" y1="746.00" x2="452.50" y2="746.00" stroke="#000" stroke-width="1.2" />
<line x1="146.50" y1="763.20" x2="452.50" y2="763.20" stroke="#000" stroke-width="1.2" />
<line x1="146.50" y1="780.40" x2="452.50" y2="780.40" stroke="#000" stroke-width="1.2" />
<line x1="146.50" y1="797.60" x2="452.50" y2="797.60" stroke="#000" stroke-width="1.2" />
<line x1="146.50" y1="814.80" x2="452.50" y2="814.80" stroke="#000" stroke-width="1.2" />
<line x1="146.50" y1="832.00" x2="452.50" y2="832.00" stroke="#000" stroke-width="1.2" />
<line x1="146.50" y1="849.20" x2="452.50" y2="849.20" stroke="#000" stroke-width="1.2" />
<text x="147.60" y="553.07" font-size="10.2" text-anchor="start" style="" >Номер</text>
<text x="147.60" y="564.27" font-size="10.2" text-anchor="start" style="" >помещ.</text>
<text x="291.00" y="558.97" font-size="10.2" text-anchor="middle" style="" >Наименование</text>
<text x="404.00" y="558.97" font-size="10.2" text-anchor="middle" style="" >Площадь</text>
<text x="431.00" y="553.67" font-size="10.2" text-anchor="start" style="" >Кат.</text>
<text x="431.00" y="565.17" font-size="10.2" text-anchor="start" style="" >пом.</text>
<text x="162.80" y="587.96" font-size="11" text-anchor="middle" style="" >1</text>
<text x="188.80" y="586.14" font-size="11.5" text-anchor="start" style="" >Дом и сад</text>
<text x="405.30" y="587.48" font-size="10.5" text-anchor="middle" style="" >434,40</text>
<text x="162.80" y="605.16" font-size="11" text-anchor="middle" style="" >2</text>
<text x="188.80" y="603.34" font-size="11.5" text-anchor="start" style="" >Торговый зал</text>
<text x="405.30" y="604.68" font-size="10.5" text-anchor="middle" style="" >1159,40</text>
<text x="162.80" y="622.36" font-size="11" text-anchor="middle" style="" >3</text>
<text x="188.80" y="620.54" font-size="11.5" text-anchor="start" style="" >Кафе</text>
<text x="405.30" y="621.88" font-size="10.5" text-anchor="middle" style="" >198,40</text>
<text x="162.80" y="639.56" font-size="11" text-anchor="middle" style="" >4</text>
<text x="188.80" y="637.74" font-size="11.5" text-anchor="start" style="" >Кухня</text>
<text x="405.30" y="639.08" font-size="10.5" text-anchor="middle" style="" >105,70</text>
<text x="162.80" y="656.76" font-size="11" text-anchor="middle" style="" >5</text>
<text x="188.80" y="654.94" font-size="11.5" text-anchor="start" style="" >Котельная</text>
<text x="405.30" y="656.28" font-size="10.5" text-anchor="middle" style="" >16,00</text>
<text x="162.80" y="673.96" font-size="11" text-anchor="middle" style="" >6</text>
<text x="188.80" y="672.14" font-size="11.5" text-anchor="start" style="" >ПВНС</text>
<text x="405.30" y="673.48" font-size="10.5" text-anchor="middle" style="" >9,00</text>
<text x="162.80" y="691.16" font-size="11" text-anchor="middle" style="" >7</text>
<text x="188.80" y="689.34" font-size="11.5" text-anchor="start" style="" >Тех. помещение</text>
<text x="405.30" y="690.68" font-size="10.5" text-anchor="middle" style="" >9,00</text>
<text x="162.80" y="708.36" font-size="11" text-anchor="middle" style="" >8</text>
<text x="188.80" y="706.54" font-size="11.5" text-anchor="start" style="" >Раздевалка</text>
<text x="405.30" y="707.88" font-size="10.5" text-anchor="middle" style="" >17,60</text>
<text x="162.80" y="725.56" font-size="11" text-anchor="middle" style="" >9</text>
<text x="188.80" y="723.74" font-size="11.5" text-anchor="start" style="" >Сан. узел</text>
<text x="405.30" y="725.08" font-size="10.5" text-anchor="middle" style="" >8,60</text>
<text x="162.80" y="742.76" font-size="11" text-anchor="middle" style="" >10</text>
<text x="188.80" y="740.94" font-size="11.5" text-anchor="start" style="" >Сан. узел</text>
<text x="405.30" y="742.28" font-size="10.5" text-anchor="middle" style="" >8,60</text>
<text x="162.80" y="759.96" font-size="11" text-anchor="middle" style="" >11</text>
<text x="188.80" y="758.14" font-size="11.5" text-anchor="start" style="" >Сан. узел</text>
<text x="405.30" y="759.48" font-size="10.5" text-anchor="middle" style="" >9,20</text>
<text x="162.80" y="777.16" font-size="11" text-anchor="middle" style="" >12</text>
<text x="188.80" y="775.34" font-size="11.5" text-anchor="start" style="" >Сан. узел</text>
<text x="405.30" y="776.68" font-size="10.5" text-anchor="middle" style="" >8,00</text>
<text x="162.80" y="794.36" font-size="11" text-anchor="middle" style="" >13</text>
<text x="188.80" y="792.54" font-size="11.5" text-anchor="start" style="" >Администрация</text>
<text x="405.30" y="793.88" font-size="10.5" text-anchor="middle" style="" >17,60</text>
<text x="162.80" y="811.56" font-size="11" text-anchor="middle" style="" >14</text>
<text x="188.80" y="809.74" font-size="11.5" text-anchor="start" style="" >Охрана</text>
<text x="405.30" y="811.08" font-size="10.5" text-anchor="middle" style="" >16,00</text>
<text x="162.80" y="828.76" font-size="11" text-anchor="middle" style="" >15</text>
<text x="188.80" y="826.94" font-size="11.5" text-anchor="start" style="" >Сан. узел</text>
<text x="405.30" y="828.28" font-size="10.5" text-anchor="middle" style="" >8,40</text>
<text x="372.00" y="844.60" font-size="10" text-anchor="end" style="" >ИТОГО</text>
<text x="405.30" y="845.08" font-size="10.5" text-anchor="middle" style="" >2025,90</text>
<line x1="656.50" y1="721.60" x2="1200.00" y2="721.60" stroke="#000" stroke-width="1.5" />
<line x1="656.50" y1="721.60" x2="656.50" y2="890.00" stroke="#000" stroke-width="1.5" />
<line x1="656.50" y1="736.40" x2="855.50" y2="736.40" stroke="#333" stroke-width="0.9" />
<line x1="656.50" y1="751.80" x2="855.50" y2="751.80" stroke="#333" stroke-width="0.9" />
<line x1="656.50" y1="767.40" x2="855.50" y2="767.40" stroke="#333" stroke-width="0.9" />
<line x1="656.50" y1="782.30" x2="855.50" y2="782.30" stroke="#333" stroke-width="0.9" />
<line x1="656.50" y1="799.30" x2="855.50" y2="799.30" stroke="#000" stroke-width="1.5" />
<line x1="656.50" y1="813.40" x2="855.50" y2="813.40" stroke="#333" stroke-width="0.9" />
<line x1="656.50" y1="828.60" x2="855.50" y2="828.60" stroke="#333" stroke-width="0.9" />
<line x1="656.50" y1="844.00" x2="855.50" y2="844.00" stroke="#333" stroke-width="0.9" />
<line x1="656.50" y1="859.40" x2="855.50" y2="859.40" stroke="#333" stroke-width="0.9" />
<line x1="656.50" y1="874.60" x2="855.50" y2="874.60" stroke="#333" stroke-width="0.9" />
<line x1="686.90" y1="721.60" x2="686.90" y2="799.30" stroke="#444" stroke-width="0.9" />
<line x1="717.70" y1="721.60" x2="717.70" y2="890.00" stroke="#000" stroke-width="1.5" />
<line x1="748.70" y1="721.60" x2="748.70" y2="799.30" stroke="#444" stroke-width="0.9" />
<line x1="779.30" y1="721.60" x2="779.30" y2="890.00" stroke="#000" stroke-width="1.5" />
<line x1="825.10" y1="721.60" x2="825.10" y2="890.00" stroke="#000" stroke-width="1.5" />
<line x1="855.50" y1="721.60" x2="855.50" y2="890.00" stroke="#000" stroke-width="1.5" />
<text x="659.60" y="795.23" font-size="12.3" text-anchor="start" style="" textLength="26.3" lengthAdjust="spacingAndGlyphs" >Изм.</text>
<text x="687.80" y="795.23" font-size="12.3" text-anchor="start" style="" textLength="25.2" lengthAdjust="spacingAndGlyphs" >Кол.</text>
<text x="718.40" y="795.23" font-size="12.3" text-anchor="start" style="" textLength="27.5" lengthAdjust="spacingAndGlyphs" >Лист</text>
<text x="749.00" y="795.03" font-size="9.8" text-anchor="start" style="" textLength="29.5" lengthAdjust="spacingAndGlyphs" >№док.</text>
<text x="782.10" y="795.23" font-size="12.3" text-anchor="start" style="" textLength="33.3" lengthAdjust="spacingAndGlyphs" >Подп.</text>
<text x="826.00" y="795.23" font-size="12.3" text-anchor="start" style="" textLength="28" lengthAdjust="spacingAndGlyphs" >Дата</text>
<text x="659.00" y="825.68" font-size="10.5" text-anchor="start" style="" textLength="46.9" lengthAdjust="spacingAndGlyphs" >Разработал</text>
<text x="744.50" y="824.58" font-size="10.5" text-anchor="middle" style="" textLength="46" lengthAdjust="spacingAndGlyphs" >Шабалина</text>
<text x="839.50" y="827.00" font-size="10" text-anchor="middle" style="" textLength="20.5" lengthAdjust="spacingAndGlyphs" >10.21</text>
<text x="659.00" y="855.58" font-size="10.5" text-anchor="start" style="" textLength="35.5" lengthAdjust="spacingAndGlyphs" >Н. контр.</text>
<text x="747.60" y="855.58" font-size="10.5" text-anchor="middle" style="" textLength="52.1" lengthAdjust="spacingAndGlyphs" >Двоеглазов</text>
<text x="839.50" y="857.10" font-size="10" text-anchor="middle" style="" textLength="20.5" lengthAdjust="spacingAndGlyphs" >10.21</text>
<text x="659.00" y="871.08" font-size="10.5" text-anchor="start" style="" textLength="16.9" lengthAdjust="spacingAndGlyphs" >ГИП</text>
<text x="747.20" y="871.08" font-size="10.5" text-anchor="middle" style="" textLength="46.4" lengthAdjust="spacingAndGlyphs" >Коротаев</text>
<text x="839.50" y="872.30" font-size="10" text-anchor="middle" style="" textLength="20.5" lengthAdjust="spacingAndGlyphs" >10.21</text>
<line x1="855.50" y1="751.70" x2="1200.00" y2="751.70" stroke="#000" stroke-width="1.5" />
<line x1="855.50" y1="799.50" x2="1200.00" y2="799.50" stroke="#000" stroke-width="1.5" />
<line x1="855.50" y1="844.20" x2="1200.00" y2="844.20" stroke="#000" stroke-width="1.5" />
<line x1="1070.20" y1="799.50" x2="1070.20" y2="890.00" stroke="#000" stroke-width="1.5" />
<line x1="1070.20" y1="815.00" x2="1200.00" y2="815.00" stroke="#000" stroke-width="1.2" />
<line x1="1116.00" y1="799.50" x2="1116.00" y2="844.20" stroke="#000" stroke-width="1.2" />
<line x1="1162.10" y1="799.50" x2="1162.10" y2="844.20" stroke="#000" stroke-width="1.2" />
<text x="1044.00" y="742.45" font-size="13.2" text-anchor="middle" style="" >43-20П-АР</text>
<text x="1041.00" y="764.85" font-size="10.7" text-anchor="middle" style="" >Объекты коммерческого назначения, расположенные</text>
<text x="858.70" y="777.45" font-size="10.7" text-anchor="start" style="" textLength="340" lengthAdjust="spacingAndGlyphs" >по адресу: Удмуртская республика, ГО г. Ижевск, Воткинское шоссе</text>
<text x="893.75" y="790.25" font-size="10.7" text-anchor="start" style="" textLength="298" lengthAdjust="spacingAndGlyphs" >(кадастровые номера 18:26:030034:837 и 18:26:030034:838)</text>
<text x="968.00" y="826.08" font-size="10.5" text-anchor="middle" style="font-style:italic;" textLength="109.7" lengthAdjust="spacingAndGlyphs" >ООО &quot;ЗАРДОН-авто&quot;</text>
<text x="1093.00" y="813.34" font-size="11.5" text-anchor="middle" style="" textLength="44" lengthAdjust="spacingAndGlyphs" >Стадия</text>
<text x="1139.00" y="813.34" font-size="11.5" text-anchor="middle" style="" >Лист</text>
<text x="1168.00" y="813.34" font-size="11.5" text-anchor="start" style="" >Листов</text>
<text x="1093.50" y="834.10" font-size="12.5" text-anchor="middle" style="" >ЭП</text>
<text x="1141.70" y="833.74" font-size="11.5" text-anchor="middle" style="" >14</text>
<text x="1188.30" y="833.74" font-size="11.5" text-anchor="middle" style="" >18</text>
<text x="969.60" y="868.56" font-size="11" text-anchor="middle" style="" textLength="162" lengthAdjust="spacingAndGlyphs" >Маркировочный план 1-го этажа</text>
<text x="1149.00" y="869.28" font-size="13" text-anchor="middle" style="" >ООО &quot;Альянс&quot;</text>
<path d="M783 813.5 C784 811 786 812 786.5 817 M788.4 813 C788 818 787.6 824 787.6 826.3 C788.5 820 789.5 813 790.7 810.3 C790.5 816 790 823 789.8 827.2 C790.5 820 791.2 813 792 809.4 C792 815 791.8 822 791.6 826.8 M792.5 826 C793 822 796 821.5 797.5 823.5 C797 827 794 828 794 826 M797.5 823.5 C798 826 799 827 800 826 M799.5 826 C803 820 807 813 809.3 811.2 C809.5 814 804 833 800.5 840.6 C799 843 800 832 803 824 C806 818 812 813 816.4 812.1 C816.5 816 809 836 806 840.6 C804.5 843 806 832 808 826 M810.2 827.2 L818.2 821 M817.3 825.9 L826.2 821.4" stroke="#000" stroke-width="0.95" fill="none" />
<path d="M787.1 863.7 C792 857 798 850 803.6 845.4 M788 862.5 C793 856 798 851 802.5 847.5 M803.6 845.4 C801 851 799 856 800.5 856.5 C802.5 853 806 852 805 857 C806.5 855.5 808.5 854 810.5 855.5 C817 850 825 847 831.6 846.8" stroke="#000" stroke-width="1.0" fill="none" />
<ellipse cx="794.2" cy="869" rx="8.5" ry="3.6" transform="rotate(-38 794.2 869)" stroke="#000" stroke-width="0.9" fill="none"/>
<ellipse cx="797.5" cy="866.5" rx="6.5" ry="2.8" transform="rotate(-35 797.5 866.5)" stroke="#000" stroke-width="0.9" fill="none"/>
<path d="M803 874.3 L815.5 855.5 M805 874.3 L818 856.5 M807 874.3 L820 857 M808.4 873.5 L821.8 858 M806.7 874.3 L801.8 883.2 M800 862 C808 858 814 856 821 856.5" stroke="#000" stroke-width="0.9" fill="none" />
</svg></div></body></html>
